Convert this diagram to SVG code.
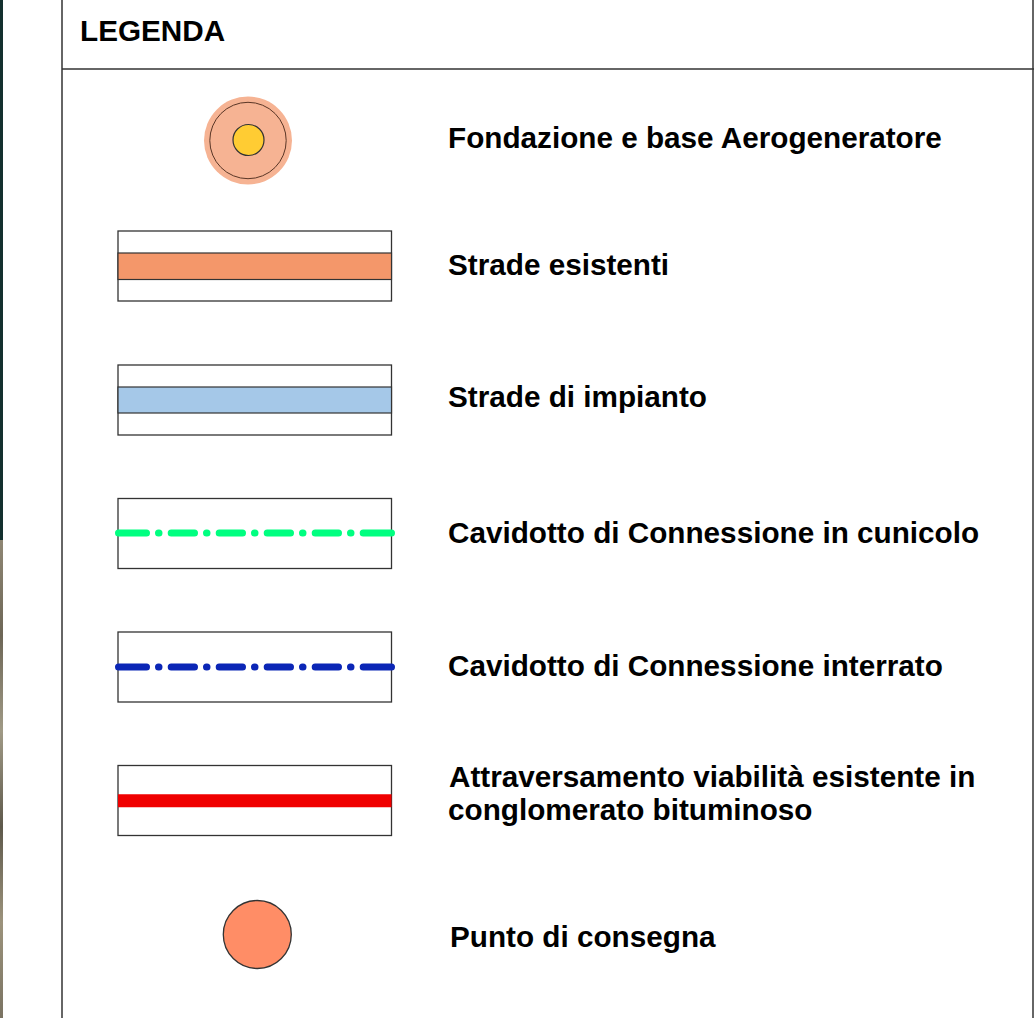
<svg xmlns="http://www.w3.org/2000/svg" width="1034" height="1018" viewBox="0 0 1034 1018">
<defs>
<linearGradient id="mapstrip" x1="0" y1="0" x2="0" y2="1">
<stop offset="0" stop-color="#8f8774"/>
<stop offset="0.2" stop-color="#6d6656"/>
<stop offset="0.4" stop-color="#a09a86"/>
<stop offset="0.6" stop-color="#5e594b"/>
<stop offset="0.8" stop-color="#9c937c"/>
<stop offset="1" stop-color="#7a7362"/>
</linearGradient>
</defs>
<style>
.frame{fill:none;stroke:#333;stroke-width:1.5}
.box{fill:#fff;stroke:#333;stroke-width:1.3}
.band{stroke:#333;stroke-width:1.2}
.lbl{font-family:"Liberation Sans",Arial,Helvetica,sans-serif;font-weight:bold;font-size:29.7px;fill:#000}
.dash{fill:none;stroke-width:7;stroke-linecap:round}
</style>
<rect x="0" y="0" width="1034" height="1018" fill="#fff"/>
<rect x="0" y="0" width="3" height="540" fill="#13302e"/>
<rect x="0" y="540" width="3" height="478" fill="url(#mapstrip)"/>
<g id="frame">
<line class="frame" x1="62" y1="0" x2="62" y2="1018"/>
<line class="frame" x1="62" y1="69" x2="1034" y2="69"/>
<line class="frame" x1="1033" y1="0" x2="1033" y2="1018"/>
<text class="lbl" x="80" y="41">LEGENDA</text>
</g>
<g id="aerogeneratore">
<circle cx="248" cy="140.5" r="44" fill="#f6b393"/>
<circle cx="248" cy="140.5" r="38.2" fill="none" stroke="#5a3626" stroke-width="1"/>
<circle cx="248.5" cy="140" r="15.5" fill="#ffcc33" stroke="#333" stroke-width="1.2"/>
<text class="lbl" x="448" y="148.3">Fondazione e base Aerogeneratore</text>
</g>
<g id="strade-esistenti">
<rect class="box" x="118" y="231" width="273.5" height="70"/>
<rect class="band" x="118" y="253" width="273.5" height="26.5" fill="#f4976a"/>
<text class="lbl" x="448" y="275">Strade esistenti</text>
</g>
<g id="strade-impianto">
<rect class="box" x="118" y="365" width="273.5" height="70"/>
<rect class="band" x="118" y="387" width="273.5" height="26" fill="#a5c8e8"/>
<text class="lbl" x="448" y="407">Strade di impianto</text>
</g>
<g id="cavidotto-cunicolo">
<rect class="box" x="118" y="498.5" width="273.5" height="70"/>
<text class="lbl" x="448" y="542.5">Cavidotto di Connessione in cunicolo</text>
</g>
<g id="cavidotto-interrato">
<rect class="box" x="118" y="632" width="273.5" height="70"/>
<text class="lbl" x="448" y="675.5">Cavidotto di Connessione interrato</text>
</g>
<g id="attraversamento">
<rect class="box" x="118" y="765.5" width="273.5" height="70"/>
<text class="lbl" x="449" y="786.5">Attraversamento viabilità esistente in</text>
<text class="lbl" x="448" y="819.5">conglomerato bituminoso</text>
</g>
<g id="punto-consegna">
<circle cx="257.3" cy="934.5" r="34" fill="#ff8d66" stroke="#333" stroke-width="1.3"/>
<text class="lbl" x="450" y="946.5">Punto di consegna</text>
</g>
<g id="connectors">
<path class="dash" stroke="#00ff80" d="M118.5 533H146.5M158.5 533h0.5M171.2 533H194.5M206.5 533h0.5M219.2 533H242.5M254.5 533h0.5M267.2 533H290.5M302.5 533h0.5M315.2 533H338.5M350.5 533h0.5M363.2 533H391.5"/>
<path class="dash" stroke="#0b26b6" d="M118.5 667H146.5M158.5 667h0.5M171.2 667H194.5M206.5 667h0.5M219.2 667H242.5M254.5 667h0.5M267.2 667H290.5M302.5 667h0.5M315.2 667H338.5M350.5 667h0.5M363.2 667H391.5"/>
<line x1="118" y1="800.8" x2="391.5" y2="800.8" stroke="#f00000" stroke-width="13"/>
</g>
</svg>
